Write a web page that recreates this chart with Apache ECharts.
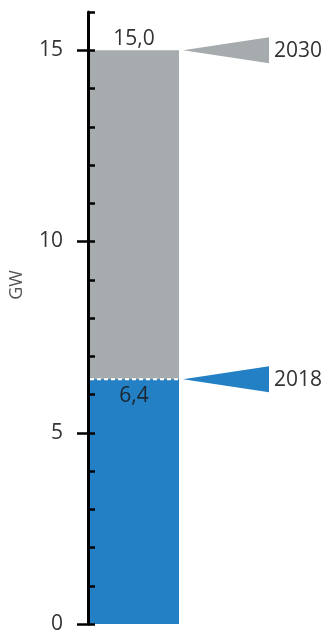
<!DOCTYPE html>
<html><head><meta charset="utf-8">
<script src="https://cdn.jsdelivr.net/npm/echarts@6/dist/echarts.min.js"></script>
<style>html,body{margin:0;padding:0;background:#fff}#c{width:328px;height:635px}</style>
</head><body><div id="c"></div>
<script>
const categories = ['Kapazität'];
const target2030 = [15.0];
const actual2018 = [6.4];
const markerYears = ['2030', '2018'];
const markerValues = [15.0, 6.4];
const majorTicks = [0, 5, 10, 15];

const GRAY = '#A6ABAE';
const BLUE = '#2380C4';
const FONT = '"Open Sans", sans-serif';
const fmt = v => Number(v).toFixed(1).replace('.', ',');

const chart = echarts.init(document.getElementById('c'));
chart.setOption({
  animation: false,
  grid: { left: 88, right: 148, top: 12, bottom: 11 },
  xAxis: { type: 'category', data: categories, show: false },
  yAxis: [{
    type: 'value', min: 0, max: 16, interval: 1, z: 10,
    name: 'GW', nameLocation: 'middle', nameGap: 62, nameRotate: 90,
    nameTextStyle: { fontFamily: FONT, fontSize: 18, color: '#555', padding: [0, 0, 0, 66] },
    axisLine: { show: true, lineStyle: { color: '#000', width: 3 } },
    axisTick: { show: true, inside: true, length: 7, lineStyle: { color: '#000', width: 2.5 } },
    axisLabel: { customValues: majorTicks, margin: 25, fontFamily: FONT, fontSize: 21, color: '#333' },
    splitLine: { show: false }
  }, {
    type: 'value', min: 0, max: 16, interval: 5, position: 'left', offset: 0, z: 10,
    axisLine: { show: false },
    axisTick: { show: true, inside: false, length: 11, customValues: majorTicks, lineStyle: { color: '#000', width: 2.5 } },
    axisLabel: { show: false },
    splitLine: { show: false }
  }],
  series: [{
    type: 'bar', data: target2030, barWidth: 90, barGap: '-100%',
    itemStyle: { color: GRAY },
    label: { show: true, position: 'top', distance: 1, formatter: p => fmt(p.value), fontFamily: FONT, fontSize: 21, color: '#333' }
  }, {
    type: 'bar', data: actual2018, barWidth: 90, barGap: '-100%',
    itemStyle: { color: BLUE },
    label: { show: true, position: 'insideTop', distance: 6, formatter: p => fmt(p.value), fontFamily: FONT, fontSize: 21, color: '#1d2530' }
  }, {
    type: 'custom', clip: false, z: 5,
    data: markerValues.map((v, i) => [0, v, i]),
    renderItem: (params, api) => {
      const i = api.value(2);
      const p = api.coord([0, api.value(1)]);
      const tipX = p[0] + 49, baseX = p[0] + 135, h = 13;
      const color = i === 0 ? GRAY : BLUE;
      const children = [{
        type: 'polygon',
        shape: { points: [[tipX, p[1]], [baseX, p[1] - h], [baseX, p[1] + h]] },
        style: { fill: color }
      }, {
        type: 'text',
        style: { x: baseX + 5, y: p[1] + 1, text: markerYears[i], fontFamily: FONT, fontSize: 21, fill: '#333', verticalAlign: 'middle', align: 'left' }
      }];
      if (i === 1) {
        children.push({
          type: 'line',
          shape: { x1: p[0] - 44, y1: p[1], x2: p[0] + 45, y2: p[1] },
          style: { stroke: '#fff', lineWidth: 2, lineDash: [4, 3] }
        });
      }
      return { type: 'group', children };
    }
  }]
});
</script></body></html>
